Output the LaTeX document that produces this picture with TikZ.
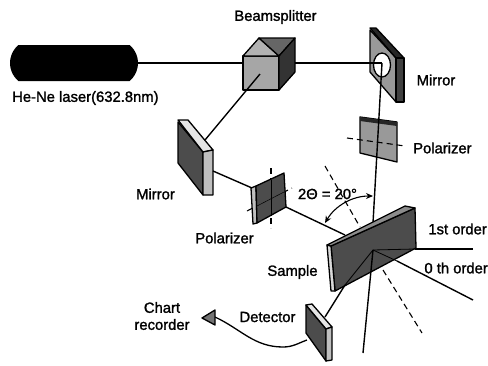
\documentclass[tikz,border=0pt]{standalone}
\usepackage{fontspec}
\setmainfont{Liberation Sans}
\newfontfamily\lblfont[FakeBold=1.5]{Liberation Sans}
\usetikzlibrary{arrows.meta,shapes.misc}
\tikzset{
  lbl/.style={font=\lblfont\fontsize{14.8}{16}\selectfont,inner sep=0pt},
  beam/.style={line width=1.4pt},
  dashline/.style={line width=1.1pt,dash pattern=on 6pt off 4pt},
  face/.style={draw,line width=1.3pt,line join=round},
}
\begin{document}
\begin{tikzpicture}[x=1pt,y=-1pt]
\useasboundingbox (0,0) rectangle (488,365);
% beam points
\coordinate (bsout) at (295,63);
\coordinate (bscen) at (260,74);
\coordinate (mone) at (382,63);
\coordinate (mtwoin) at (205,140);
\coordinate (mtwoout) at (213,171);
\coordinate (polin) at (252,188);
\coordinate (polout) at (286,207);
\coordinate (spot) at (345,235);
\coordinate (hit) at (373,250);
\coordinate (exit) at (363,353);
\coordinate (firstin) at (415,249);
\coordinate (firstend) at (473,249);
\coordinate (zeroin) at (397,261);
\coordinate (zeroend) at (473,300);
\coordinate (detout) at (345,285);
\coordinate (detin) at (325,317);
\coordinate (cable) at (307,340);
\coordinate (cablemid) at (283,347);
\coordinate (chartin) at (215,317);

% He-Ne laser
\node[fill=black,rounded rectangle,rounded rectangle arc length=100,minimum width=128pt,minimum height=36pt,inner sep=0pt] (laser) at (74,63) {};
\node[lbl,anchor=west] (laserlbl) at (12,98) {He-Ne laser(632.8nm)};
\draw[beam] (laser.east) -- (243,63);

% Beamsplitter
\filldraw[face,fill=black!35] (243,56) -- (279,56) -- (279,90) -- (243,90) -- cycle;
\filldraw[face,fill=black!30] (243,56) -- (259,38) -- (279,56) -- cycle;
\filldraw[face,fill=black!60] (259,38) -- (295,38) -- (279,56) -- cycle;
\filldraw[face,fill=black!80] (279,56) -- (295,38) -- (295,72) -- (279,90) -- cycle;
\node[lbl] (bslbl) at (275.5,17) {Beamsplitter};
\draw[beam] (bscen) -- (mtwoin);

% upper mirror
\filldraw[face,fill=black!40] (370,30) -- (396,58) -- (396,102) -- (370,72) -- cycle;
\filldraw[face,fill=black!85] (370,28) -- (376,28) -- (404,58) -- (396,58) -- cycle;
\filldraw[face,fill=black!75] (396,58) -- (404,58) -- (404,102) -- (396,102) -- cycle;
\filldraw[face,fill=white] (382,65) ellipse (8.5pt and 12pt);
\draw[beam] (bsout) -- (mone);
\node[lbl] (monelbl) at (436,80) {Mirror};

% lower mirror
\filldraw[face,fill=black!70] (178,122) -- (203,152) -- (203,195) -- (178,163) -- cycle;
\filldraw[face,fill=black!10] (178,120) -- (188,120) -- (213,150) -- (203,152) -- cycle;
\filldraw[face,fill=black!25] (203,152) -- (213,150) -- (213,195) -- (203,195) -- cycle;
\node[lbl] (mtwolbl) at (155.5,194) {Mirror};

% polarizers
\filldraw[face,fill=black!40] (360,117) -- (397,122) -- (397,162) -- (360,153) -- cycle;
\fill[black!85] (360,117) -- (397,122) -- (397,126) -- (360,121) -- cycle;
\draw[beam] (mone) -- (373,223);
\draw[dashline] (347,138) -- (405,146);
\node[lbl,anchor=west] (ponelbl) at (413,148) {Polarizer};
\draw[dashline] (271,168) -- (271,228);
\draw[dashline] (247,211) -- (292,188);
\filldraw[face,fill=black!25] (251,188) -- (256,186) -- (257,223) -- (253,224) -- cycle;
\filldraw[face,fill=black!70] (256,186) -- (284,173) -- (286,207) -- (257,223) -- cycle;
\draw[line width=.5pt] (271,180) -- (271,216);
\draw[line width=.5pt] (257,206) -- (284,192);
\node[lbl] (ptwolbl) at (224.5,238) {Polarizer};
\draw[beam] (mtwoout) -- (polin);
\draw[beam] (polout) -- (spot);

% sample
\draw[dashline] (325,166) -- (360,227);
\filldraw[face,fill=black!70] (331,246) -- (415,208) -- (416,248) -- (335,291) -- cycle;
\filldraw[face,fill=black!15] (327,245) -- (331,246) -- (335,291) -- (331,291) -- cycle;
\filldraw[face,fill=black!45] (327,245) -- (405,206) -- (415,208) -- (331,246) -- cycle;
\draw[line width=.8pt] (hit) -- (detout);
\draw[line width=.8pt] (hit) -- (firstin);
\draw[line width=.8pt] (hit) -- (zeroin);
\draw[beam] (firstin) -- (firstend);
\draw[beam] (zeroin) -- (zeroend);
\draw[beam] (hit) -- (exit);
\draw[dashline] (383,270) -- (422,333);
\draw[beam] (detout) -- (detin);
\node[lbl] (samplelbl) at (292.5,272) {Sample};
\node[lbl,anchor=east] (firstlbl) at (487,229) {1st order};
\node[lbl,anchor=east] (zerolbl) at (488,268) {0 th order};

% angle
\draw[line width=1.1pt,{Stealth[length=7pt,width=6pt]}-{Stealth[length=7pt,width=6pt]}] (325,223) .. controls (335,206) and (352,196) .. (373,196);
\node[lbl] (anglelbl) at (327.5,194) {2Θ = 20°};

% detector and recorder
\filldraw[face,fill=black!70] (306,305) -- (326,329) -- (326,361) -- (306,333) -- cycle;
\filldraw[face,fill=black!10] (306,305) -- (312,304) -- (332,327) -- (326,329) -- cycle;
\filldraw[face,fill=black!25] (326,329) -- (332,327) -- (332,360) -- (326,361) -- cycle;
\draw[line width=1.3pt] (cable) to[out=200,in=0] (cablemid) to[out=180,in=-25] (chartin);
\filldraw[face,fill=black!55] (202,318) -- (215,310) -- (215,325) -- cycle;
\node[lbl] (detlbl) at (267.5,317) {Detector};
\node[lbl,align=center] (chartlbl) at (162,316) {Chart\\[1pt]recorder};
\end{tikzpicture}
\end{document}
